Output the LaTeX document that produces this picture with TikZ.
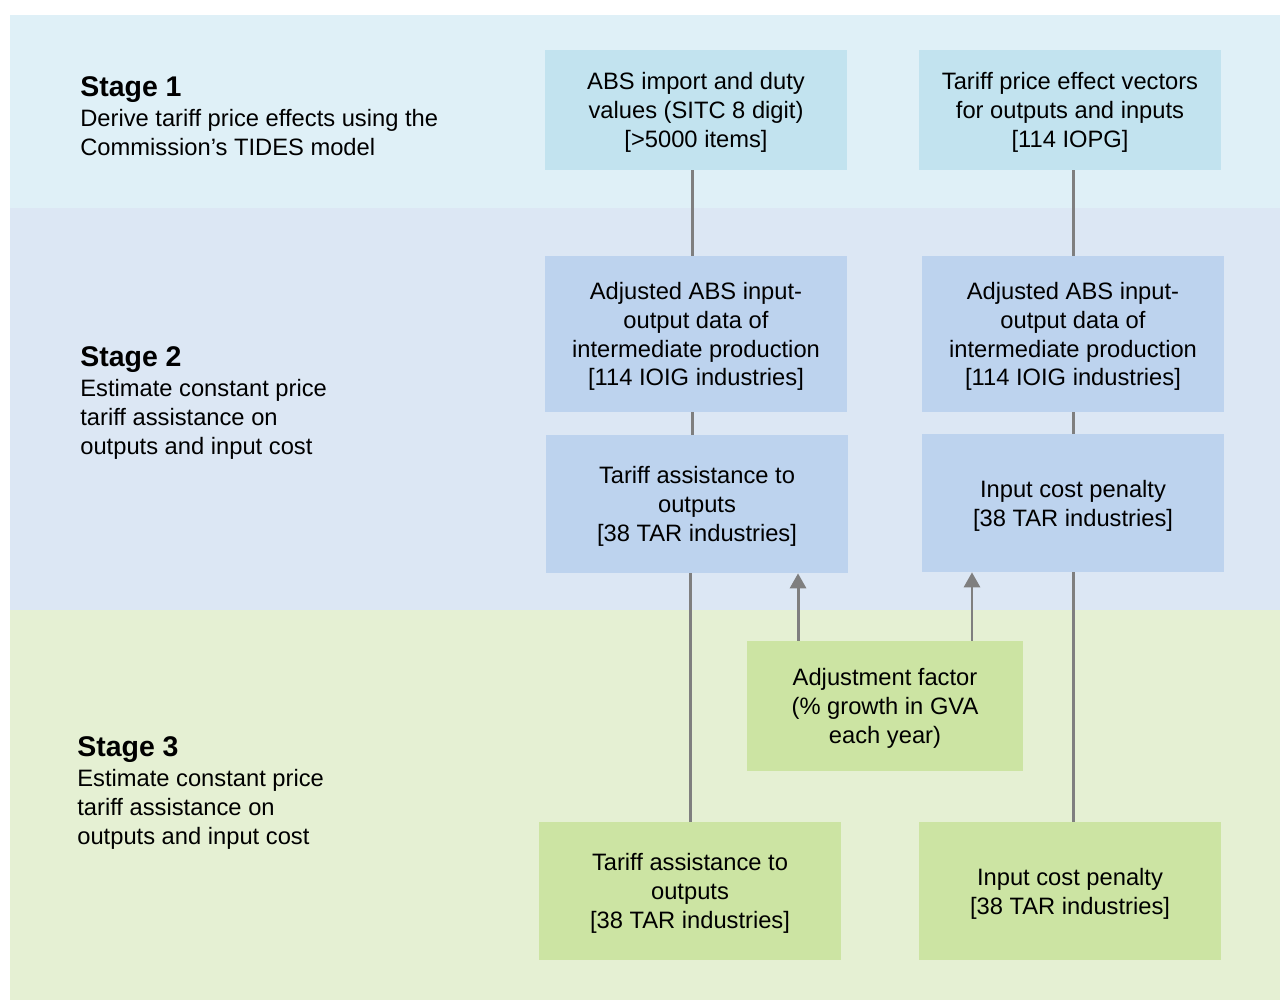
\documentclass[tikz,border=0pt]{standalone}
\usepackage{fontspec}
\setmainfont{Liberation Sans}
\usetikzlibrary{arrows.meta}
\definecolor{bandone}{HTML}{DFF0F7}
\definecolor{boxone}{HTML}{C2E3EF}
\definecolor{bandtwo}{HTML}{DCE7F4}
\definecolor{boxtwo}{HTML}{BDD3EE}
\definecolor{bandthree}{HTML}{E5F0D3}
\definecolor{boxthree}{HTML}{CCE4A3}
\definecolor{linkgray}{HTML}{7F7F7F}
\begin{document}
\begin{tikzpicture}[x=0.02cm,y=-0.02cm,
    every node/.style={font=\fontsize{13.5}{16.4}\selectfont, inner sep=0pt},
    stagebox/.style={minimum width=6.04cm, align=center, text depth=-1.7pt},
    heading/.style={font=\fontsize{16.2}{19}\selectfont\bfseries, anchor=base west},
    blurb/.style={align=left, anchor=north west},
    link/.style={draw=linkgray, line width=1.7pt},
    uplink/.style={link, -{Triangle[width=0.32cm,length=0.3cm]}}]
  \useasboundingbox (0,0) rectangle (1280,1001);
  % bands
  \fill[bandone] (10,15) rectangle (1280,208);
  \fill[bandtwo] (10,208) rectangle (1280,610);
  \fill[bandthree] (10,610) rectangle (1280,1000);
  % stage texts
  \node[heading] (h1) at (80,96) {Stage 1};
  \node[blurb] (t1) at (80,109) {Derive tariff price effects using the\\Commission's TIDES model};
  \node[heading] (h2) at (80,366) {Stage 2};
  \node[blurb] (t2) at (80,379) {Estimate constant price\\tariff assistance on\\outputs and input cost};
  \node[heading] (h3) at (77,756) {Stage 3};
  \node[blurb] (t3) at (77,769) {Estimate constant price\\tariff assistance on\\outputs and input cost};
  % boxes
  \node[stagebox, fill=boxone, minimum height=2.4cm] (abs) at (696,110)
    {ABS import and duty\\values (SITC 8 digit)\\{[}>5000 items{]}};
  \node[stagebox, fill=boxone, minimum height=2.4cm] (vec) at (1070,110)
    {Tariff price effect vectors\\for outputs and inputs\\{[}114 IOPG{]}};
  \node[stagebox, fill=boxtwo, minimum height=3.12cm] (ioa) at (696,334)
    {Adjusted ABS input-\\output data of\\intermediate production\\{[}114 IOIG industries{]}};
  \node[stagebox, fill=boxtwo, minimum height=3.12cm] (iob) at (1073,334)
    {Adjusted ABS input-\\output data of\\intermediate production\\{[}114 IOIG industries{]}};
  \node[stagebox, fill=boxtwo, minimum height=2.76cm] (tarA) at (697,504)
    {Tariff assistance to\\outputs\\{[}38 TAR industries{]}};
  \node[stagebox, fill=boxtwo, minimum height=2.76cm] (penA) at (1073,503)
    {Input cost penalty\\{[}38 TAR industries{]}};
  \node[stagebox, fill=boxthree, minimum width=5.54cm, minimum height=2.6cm] (adj) at (885,706)
    {Adjustment factor\\(\% growth in GVA\\each year)};
  \node[stagebox, fill=boxthree, minimum height=2.76cm] (tarB) at (690,891)
    {Tariff assistance to\\outputs\\{[}38 TAR industries{]}};
  \node[stagebox, fill=boxthree, minimum height=2.76cm] (penB) at (1070,891)
    {Input cost penalty\\{[}38 TAR industries{]}};
  % connectors
  \draw[link] ([xshift=-0.08cm]abs.south) -- ([xshift=-0.08cm]abs.south |- ioa.north);
  \draw[link] ([xshift=0.06cm]vec.south) -- ([xshift=0.06cm]vec.south |- iob.north);
  \draw[link] ([xshift=-0.08cm]ioa.south) -- ([xshift=-0.08cm]ioa.south |- tarA.north);
  \draw[link] (iob.south) -- (penA.north);
  \draw[link] (tarB.north |- tarA.south) -- (tarB.north);
  \draw[link] (penA.south) -- (penA.south |- penB.north);
  \draw[uplink] ([xshift=-1.74cm]adj.north) -- ([xshift=-1.74cm]adj.north |- tarA.south);
  \draw[uplink] ([xshift=1.74cm]adj.north) -- ([xshift=1.74cm]adj.north |- penA.south);
\end{tikzpicture}
\end{document}
